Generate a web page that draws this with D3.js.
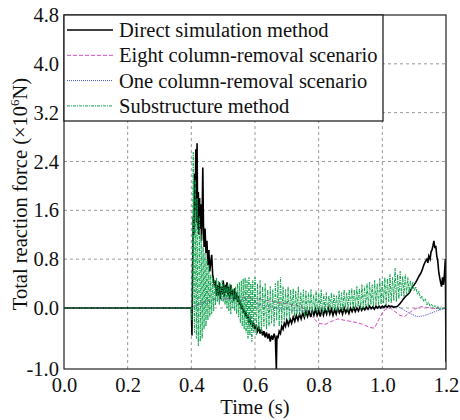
<!DOCTYPE html>
<html>
<head>
<script src="https://d3js.org/d3.v7.min.js"></script>
<style>
  body { margin: 0; background: #fff; }
  svg { display: block; font-family: "Liberation Serif", "Times New Roman", serif; }
  .grid line { stroke: #999; stroke-width: 1; stroke-dasharray: 3,3; }
  .legend-text { font-size: 20.5px; fill: #111; }
</style>
</head>
<body>
<div id="chart"></div>
<script>
// series: [time (s), total reaction force (x10^6 N)]
const directSim = [
  [0,0],[0.400,0],[0.402,-0.45],[0.404,0.6],[0.406,1.5],[0.408,1.2],[0.410,2.2],[0.412,1.6],
  [0.414,2.6],[0.416,1.4],[0.418,2.7],[0.420,1.3],[0.422,1.9],[0.424,1.2],[0.426,1.8],[0.428,1.3],
  [0.430,1.7],[0.432,1.1],[0.434,1.5],[0.436,2.3],[0.438,1.4],[0.440,1.0],[0.443,1.3],[0.446,0.9],
  [0.449,1.1],[0.452,0.7],[0.455,0.95],[0.458,0.6],[0.461,0.75],[0.464,0.87],[0.467,0.55],[0.470,0.45],
  [0.473,0.35],[0.476,0.45],[0.479,0.2],[0.482,0.38],[0.485,0.2],[0.488,0.42],[0.491,0.15],[0.494,0.35],
  [0.497,0.22],[0.500,0.45],[0.503,0.18],[0.506,0.38],[0.509,0.25],[0.512,0.42],[0.515,0.2],[0.518,0.35],
  [0.521,0.15],[0.524,0.38],[0.527,0.2],[0.530,0.3],[0.533,0.12],[0.536,0.32],[0.539,0.15],[0.542,0.25],
  [0.545,0.1],[0.548,0.2],[0.551,0.05],[0.554,0.12],[0.557,-0.02],[0.560,0.05],[0.563,-0.08],[0.566,-0.02],
  [0.569,-0.12],[0.572,-0.08],[0.575,-0.18],[0.578,-0.12],[0.581,-0.22],[0.584,-0.18],[0.587,-0.28],[0.590,-0.22],
  [0.593,-0.32],[0.596,-0.25],[0.600,-0.35],[0.604,-0.28],[0.608,-0.38],[0.612,-0.32],[0.616,-0.42],[0.620,-0.35],
  [0.624,-0.45],[0.628,-0.38],[0.632,-0.48],[0.636,-0.4],[0.640,-0.5],[0.644,-0.42],[0.648,-0.55],[0.652,-0.45],
  [0.656,-0.52],[0.660,-0.42],[0.664,-0.5],[0.667,-1.0],[0.669,-0.45],[0.672,-0.5],[0.676,-0.38],[0.680,-0.42],
  [0.684,-0.3],[0.688,-0.35],[0.692,-0.25],[0.696,-0.3],[0.700,-0.2],[0.705,-0.28],[0.710,-0.18],[0.715,-0.25],
  [0.720,-0.15],[0.725,-0.22],[0.730,-0.12],[0.735,-0.2],[0.740,-0.1],[0.745,-0.18],[0.750,-0.08],[0.755,-0.16],
  [0.760,-0.06],[0.765,-0.14],[0.770,-0.05],[0.775,-0.15],[0.780,-0.04],[0.785,-0.12],[0.790,-0.02],[0.795,-0.12],
  [0.800,-0.04],[0.805,-0.14],[0.810,-0.03],[0.815,-0.12],[0.820,-0.02],[0.825,-0.1],[0.830,0.0],[0.835,-0.1],
  [0.840,-0.02],[0.845,-0.12],[0.850,-0.03],[0.855,-0.1],[0.860,0.0],[0.865,-0.08],[0.870,-0.02],[0.875,-0.1],
  [0.880,0.0],[0.885,-0.08],[0.890,-0.02],[0.895,-0.09],[0.900,0.0],[0.905,-0.06],[0.910,0.01],[0.915,-0.06],
  [0.920,0.0],[0.925,-0.05],[0.930,0.02],[0.935,-0.04],[0.940,0.01],[0.945,-0.03],[0.950,0.02],[0.955,-0.02],
  [0.960,0.03],[0.965,-0.01],[0.970,0.02],[0.975,-0.02],[0.980,0.03],[0.985,0.0],[0.990,0.03],[0.995,0.0],
  [1.000,0.03],[1.005,0.01],[1.010,0.04],[1.015,0.01],[1.020,0.04],[1.025,0.02],[1.030,0.03],[1.035,0.01],
  [1.040,0.02],[1.045,0.02],[1.050,0.04],[1.055,0.07],[1.060,0.1],[1.065,0.14],[1.070,0.17],[1.075,0.2],
  [1.080,0.22],[1.085,0.25],[1.090,0.3],[1.095,0.35],[1.100,0.38],[1.105,0.42],[1.110,0.47],[1.115,0.52],
  [1.120,0.56],[1.125,0.62],[1.130,0.7],[1.135,0.76],[1.140,0.8],[1.143,0.74],[1.146,0.85],[1.150,0.8],
  [1.153,0.92],[1.156,0.95],[1.159,1.02],[1.162,1.1],[1.165,0.98],[1.168,1.02],[1.171,0.85],[1.174,0.78],
  [1.177,0.6],[1.180,0.5],[1.183,0.42],[1.186,0.35],[1.189,0.5],[1.192,0.38],[1.195,0.55],[1.198,0.8],[1.200,-0.88]
];

const eightRemoval = [
  [0,0],[0.40,0],[0.41,0.03],[0.43,0.08],[0.45,0.12],[0.48,0.15],[0.52,0.16],[0.55,0.18],[0.58,0.17],
  [0.62,0.14],[0.66,0.1],[0.70,0.07],[0.74,0.03],[0.76,-0.03],[0.78,-0.15],[0.80,-0.25],[0.82,-0.27],
  [0.84,-0.22],[0.86,-0.18],[0.88,-0.2],[0.90,-0.22],[0.92,-0.24],[0.94,-0.27],[0.96,-0.32],[0.975,-0.33],
  [0.99,-0.18],[1.00,-0.08],[1.01,-0.02],[1.025,0.0],[1.04,-0.06],[1.055,-0.12],[1.07,-0.14],[1.085,-0.08],
  [1.10,-0.02],[1.12,0.02],[1.14,0.01],[1.16,-0.01],[1.20,0.0]
];

const oneRemoval = [
  [0,0],[0.40,0],[0.42,0.04],[0.44,0.08],[0.47,0.12],[0.50,0.14],[0.53,0.15],[0.56,0.13],[0.60,0.08],
  [0.64,0.03],[0.68,-0.01],[0.72,-0.04],[0.76,-0.05],[0.80,-0.05],[0.85,-0.04],[0.90,-0.03],[0.95,-0.02],
  [1.00,0.0],[1.03,0.03],[1.05,0.02],[1.07,-0.04],[1.09,-0.1],[1.11,-0.14],[1.13,-0.13],[1.15,-0.09],
  [1.17,-0.05],[1.19,-0.02],[1.20,0.0]
];

const substructure = [
  [0,0],[0.400,0],[0.402,-0.2],[0.404,1.2],[0.406,2.55],[0.408,0.3],[0.410,-0.4],[0.412,2.1],[0.414,0.2],
  [0.416,-0.5],[0.418,1.8],[0.420,0.0],[0.422,-0.62],[0.425,1.5],[0.428,-0.55],[0.431,1.2],[0.434,-0.5],
  [0.437,1.0],[0.440,-0.35],[0.443,0.9],[0.446,-0.3],[0.449,0.8],[0.452,-0.2],[0.455,0.7],[0.458,-0.15],
  [0.461,0.55],[0.464,-0.1],[0.467,0.5],[0.470,-0.05],[0.473,0.45],[0.476,0.05],[0.479,0.5],[0.482,0.1],
  [0.485,0.45],[0.488,0.05],[0.491,0.4],[0.494,0.12],[0.497,0.45],[0.500,0.1],[0.503,0.4],[0.506,0.05],
  [0.509,0.35],[0.512,0.0],[0.515,0.38],[0.518,-0.05],[0.521,0.4],[0.524,-0.1],[0.527,0.35],[0.530,0.0],
  [0.533,0.3],[0.536,-0.05],[0.539,0.35],[0.542,-0.1],[0.545,0.4],[0.548,-0.15],[0.551,0.42],[0.554,-0.25],
  [0.557,0.45],[0.560,-0.3],[0.563,0.48],[0.566,-0.35],[0.569,0.5],[0.572,-0.4],[0.575,0.45],[0.578,-0.5],
  [0.581,0.5],[0.584,-0.45],[0.587,0.4],[0.590,-0.55],[0.593,0.45],[0.596,-0.4],[0.600,0.5],[0.604,-0.45],
  [0.608,0.4],[0.612,-0.35],[0.616,0.45],[0.620,-0.4],[0.624,0.35],[0.628,-0.3],[0.632,0.4],[0.636,-0.35],
  [0.640,0.3],[0.644,-0.3],[0.648,0.35],[0.652,-0.25],[0.656,0.3],[0.660,-0.3],[0.664,0.4],[0.668,-0.2],
  [0.672,0.45],[0.676,-0.3],[0.680,0.5],[0.684,-0.25],[0.688,0.35],[0.692,-0.2],[0.696,0.3],[0.700,-0.15],
  [0.704,0.35],[0.708,-0.2],[0.712,0.3],[0.716,-0.1],[0.720,0.32],[0.724,-0.15],[0.728,0.28],[0.732,-0.1],
  [0.736,0.35],[0.740,-0.12],[0.744,0.25],[0.748,-0.08],[0.752,0.3],[0.756,-0.15],[0.760,0.28],[0.764,-0.1],
  [0.768,0.25],[0.772,-0.05],[0.776,0.3],[0.780,-0.1],[0.784,0.22],[0.788,-0.05],[0.792,0.28],[0.796,-0.08],
  [0.800,0.25],[0.804,-0.05],[0.808,0.3],[0.812,-0.1],[0.816,0.22],[0.820,-0.04],[0.824,0.25],[0.828,-0.08],
  [0.832,0.2],[0.836,-0.02],[0.840,0.25],[0.844,-0.05],[0.848,0.22],[0.852,-0.03],[0.856,0.2],[0.860,-0.06],
  [0.864,0.28],[0.868,-0.02],[0.872,0.25],[0.876,-0.05],[0.880,0.3],[0.884,0.0],[0.888,0.25],[0.892,-0.04],
  [0.896,0.3],[0.900,0.02],[0.904,0.32],[0.908,-0.02],[0.912,0.3],[0.916,0.0],[0.920,0.35],[0.924,0.02],
  [0.928,0.32],[0.932,-0.03],[0.936,0.38],[0.940,0.0],[0.944,0.35],[0.948,0.03],[0.952,0.4],[0.956,0.0],
  [0.960,0.42],[0.964,0.05],[0.968,0.38],[0.972,0.02],[0.976,0.45],[0.980,0.05],[0.984,0.4],[0.988,0.03],
  [0.992,0.48],[0.996,0.06],[1.000,0.45],[1.004,0.08],[1.008,0.5],[1.012,0.05],[1.016,0.48],[1.020,0.1],
  [1.024,0.55],[1.028,0.08],[1.032,0.5],[1.036,0.12],[1.040,0.65],[1.044,0.1],[1.048,0.55],[1.052,0.15],
  [1.056,0.6],[1.060,0.2],[1.064,0.52],[1.068,0.18],[1.072,0.55],[1.076,0.22],[1.080,0.5],[1.084,0.25],
  [1.088,0.45],[1.092,0.3],[1.096,0.42],[1.100,0.28],[1.105,0.35],[1.110,0.22],[1.115,0.28],[1.120,0.15],
  [1.125,0.2],[1.130,0.1],[1.135,0.15],[1.140,0.05],[1.145,0.1],[1.150,0.02],[1.155,0.06],[1.160,0.0],
  [1.165,0.04],[1.170,-0.02],[1.175,0.03],[1.180,-0.03],[1.185,0.02],[1.190,-0.02],[1.195,0.01],[1.200,0.0]
];

const xTicks = [0, 0.2, 0.4, 0.6, 0.8, 1.0, 1.2];
const yTicks = [-1.0, 0.0, 0.8, 1.6, 2.4, 3.2, 4.0, 4.8];
const yGrid = [0.0, 0.8, 1.6, 2.4, 3.2, 4.0];
const xGrid = [0.2, 0.4, 0.6, 0.8, 1.0];

const legendNames = ["Direct simulation method", "Eight column-removal scenario",
                     "One column-removal scenario", "Substructure method"];

const W = 460, H = 420;
const margin = {top: 15, right: 14, bottom: 51, left: 64};

const svg = d3.select("#chart").append("svg")
    .attr("width", W).attr("height", H);

const x = d3.scaleLinear().domain([0, 1.2]).range([margin.left, W - margin.right]);
const y = d3.scaleLinear().domain([-1.0, 4.8]).range([H - margin.bottom, margin.top]);

svg.append("clipPath").attr("id", "plot-clip")
  .append("rect")
    .attr("x", x(0)).attr("y", y(4.8))
    .attr("width", x(1.2) - x(0)).attr("height", y(-1.0) - y(4.8));

// grid
const grid = svg.append("g").attr("class", "grid");
grid.selectAll(".gy").data(yGrid).enter().append("line")
    .attr("x1", x(0)).attr("x2", x(1.2))
    .attr("y1", d => y(d)).attr("y2", d => y(d));
grid.selectAll(".gx").data(xGrid).enter().append("line")
    .attr("x1", d => x(d)).attr("x2", d => x(d))
    .attr("y1", y(-1.0)).attr("y2", y(4.8));

// series
const line = d3.line().x(d => x(d[0])).y(d => y(d[1]));
const series = [
  {data: directSim, color: "#000", width: 1.6, dash: null},
  {data: eightRemoval, color: "#d24cc0", width: 1, dash: "4,2"},
  {data: oneRemoval, color: "#4a4fd0", width: 1, dash: "1,1"},
  {data: substructure, color: "#12a550", width: 1, dash: "3,1,1,1"}
];
const drawOrder = [1, 2, 0, 3];
const plot = svg.append("g").attr("clip-path", "url(#plot-clip)");
plot.selectAll("path").data(drawOrder.map(i => series[i])).enter().append("path")
    .attr("d", d => line(d.data))
    .attr("fill", "none")
    .attr("stroke", d => d.color)
    .attr("stroke-width", d => d.width)
    .attr("stroke-dasharray", d => d.dash);

// frame
svg.append("rect")
    .attr("x", x(0)).attr("y", y(4.8))
    .attr("width", x(1.2) - x(0)).attr("height", y(-1.0) - y(4.8))
    .attr("fill", "none").attr("stroke", "#222").attr("stroke-width", 1.2);

// axes (labels only)
const fmt = d => d3.format(".1f")(d).replace("\u2212", "-");
const xAxis = svg.append("g")
    .attr("transform", `translate(0,${y(-1.0)})`)
    .call(d3.axisBottom(x).tickValues(xTicks).tickFormat(fmt).tickSize(0).tickPadding(8));
const yAxis = svg.append("g")
    .attr("transform", `translate(${x(0)},0)`)
    .call(d3.axisLeft(y).tickValues(yTicks).tickFormat(fmt).tickSize(0).tickPadding(5));
[xAxis, yAxis].forEach(a => {
  a.select(".domain").remove();
  a.selectAll("text")
    .style("font-family", "Liberation Serif").style("font-size", "20.5px").attr("fill", "#111");
});

// axis titles
svg.append("text")
    .attr("x", (x(0) + x(1.2)) / 2).attr("y", 414)
    .attr("text-anchor", "middle").attr("font-size", 20.5).attr("fill", "#111")
    .text("Time (s)");

const yt = svg.append("text")
    .attr("transform", `translate(27,${(y(-1.0) + y(4.8)) / 2 + 2}) rotate(-90)`)
    .attr("text-anchor", "middle").attr("font-size", 20.5).attr("fill", "#111");
yt.append("tspan").text("Total reaction force (×10");
yt.append("tspan").attr("font-size", 13).attr("dy", -8).text("6");
yt.append("tspan").attr("dy", 8).text("N)");

// legend
const legend = svg.append("g");
legend.append("rect")
    .attr("x", x(0)).attr("y", y(4.8))
    .attr("width", 319).attr("height", 106)
    .attr("fill", "#fff").attr("stroke", "#111").attr("stroke-width", 1.2);
const rows = legend.selectAll(".row").data(series)
  .enter().append("g")
    .attr("transform", (d, i) => `translate(${x(0)},${y(4.8) + 15 + i * 25.3})`);
rows.append("line")
    .attr("x1", 3).attr("x2", 49).attr("y1", 0).attr("y2", 0)
    .attr("stroke", d => d.color)
    .attr("stroke-width", d => d.width)
    .attr("stroke-dasharray", d => d.dash);
rows.append("text")
    .attr("class", "legend-text")
    .attr("x", 55).attr("y", 7)
    .text((d, i) => legendNames[i]);
</script>
</body>
</html>
